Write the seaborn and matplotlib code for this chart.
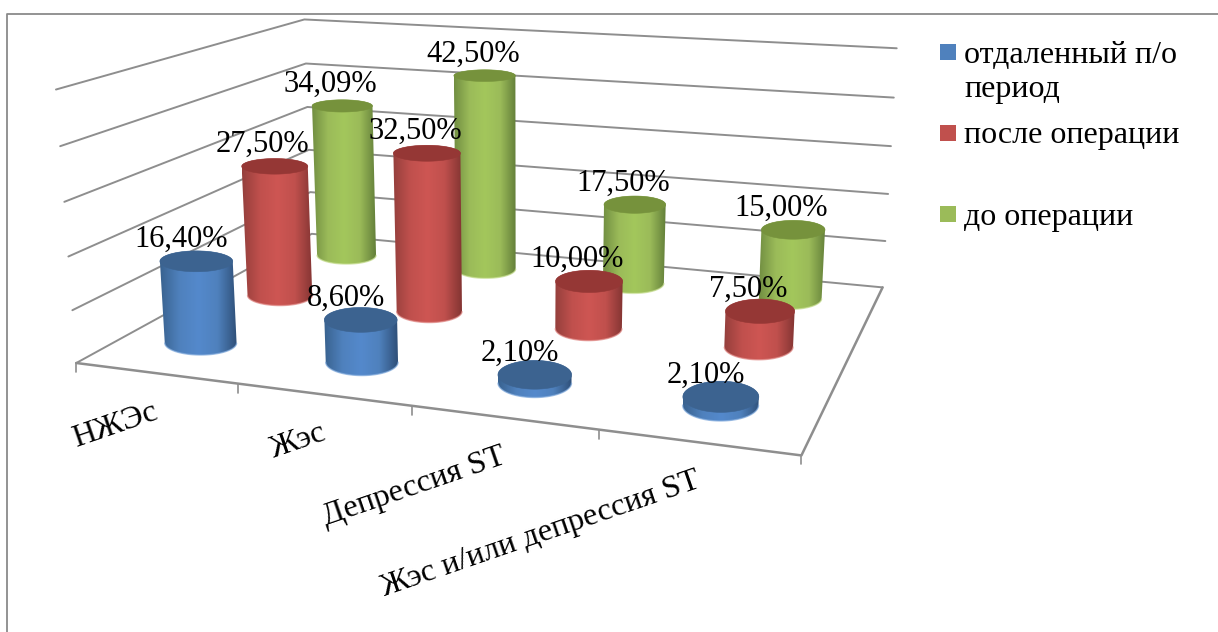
import numpy as np
import matplotlib
matplotlib.use("Agg")
import matplotlib.pyplot as plt
from matplotlib.patches import Rectangle, Polygon
import seaborn as sns

# Chart values, percent of patients
categories = ["НЖЭс", "Жэс", "Депрессия ST", "Жэс и/или депрессия ST"]
series_names = ["отдаленный п/о\nпериод", "после операции", "до операции"]
late_period = [16.40, 8.60, 2.10, 2.10]
after_surgery = [27.50, 32.50, 10.00, 7.50]
before_surgery = [34.09, 42.50, 17.50, 15.00]
series_values = [late_period, after_surgery, before_surgery]

# Value axis
value_step = 10.0
value_ticks = 5

# Series colours for the side shading and the caps
base_colors = ["#4F81BD", "#C0504D", "#9BBB59"]
bright_colors = ["#5489CC", "#CE5653", "#A3C75C"]
left_colors = ["#39628F", "#953F3C", "#728F42"]
right_colors = ["#2F5079", "#843533", "#64803A"]
cap_colors = ["#3C6390", "#953735", "#76923C"]
rim_colors = ["#7FA9DC", "#E08885", "#C4DC8C"]

GRID = "#8E8E8E"
W, H = 1218, 632

sns.set_theme(style="white")
plt.rcParams["font.family"] = ["Liberation Serif", "DejaVu Serif"]

# Camera of the 3-D box: (category, series, value step) -> screen position
box_points = np.array([
    (0, 0, 0), (1, 0, 0), (2, 0, 0), (3, 0, 0), (4, 0, 0),
    (4, 3, 0), (0, 3, 0),
    (0, 0, 1), (0, 0, 2), (0, 0, 3), (0, 0, 4), (0, 0, 5),
    (0, 3, 1), (0, 3, 3), (0, 3, 4), (0, 3, 5),
    (4, 3, 1), (4, 3, 2), (4, 3, 3), (4, 3, 4), (4, 3, 5),
], float)
screen_points = np.array([
    (76, 361), (238, 383), (412, 406), (599, 430), (802, 457),
    (882, 286), (313, 237),
    (71, 309), (68, 256), (64, 202), (61, 147), (57, 91),
    (311, 193), (307, 106), (305, 62), (304, 19),
    (885, 240), (888, 194), (891, 146), (894, 98), (897, 49),
], float)


def fit_camera(world, image):
    rows = []
    for (x, y, z), (u, v) in zip(world, image / 1000.0):
        rows.append([x, y, z, 1, 0, 0, 0, 0, -u * x, -u * y, -u * z, -u])
        rows.append([0, 0, 0, 0, x, y, z, 1, -v * x, -v * y, -v * z, -v])
    _, _, vt = np.linalg.svd(np.array(rows))
    return vt[-1].reshape(3, 4)


CAMERA = fit_camera(box_points, screen_points)


def project(x, y, z):
    x, y, z = np.broadcast_arrays(x, y, z)
    p = np.stack([x, y, z, np.ones_like(x, dtype=float)], axis=-1) @ CAMERA.T
    return p[..., :2] / p[..., 2:3] * 1000.0


fig = plt.figure(figsize=(W / 100, H / 100), dpi=100, facecolor="white")
ax = fig.add_axes([0, 0, 1, 1])
ax.set_xlim(0, W)
ax.set_ylim(H, 0)
ax.axis("off")

# Outer chart frame
ax.plot([7, 7, W], [H, 14, 14], color="#8A8A8A", lw=1.3, zorder=1)

# Walls and floor
for k in range(value_ticks + 1):
    wall = project([0, 0, 4], [0, 3, 3], [k, k, k])
    ax.plot(wall[:, 0], wall[:, 1], color=GRID, lw=1.4, zorder=2)
front = project([0, 4, 4], [0, 0, 3], [0, 0, 0])
ax.plot(front[:, 0], front[:, 1], color=GRID, lw=1.8, zorder=2)
for c in range(len(categories) + 1):
    tx, ty = project(c, 0, 0)
    ax.plot([tx, tx], [ty, ty + 9], color=GRID, lw=1.2, zorder=2)

# Cylinders stand slightly proud of the floor plane
RX, RY = 0.19, 0.235
BASE_LIFT = 0.06
angles = np.linspace(0, 2 * np.pi, 181)[:-1]


def level_ellipse(cat, ser, z):
    """Circle at height z on the screen, with its major axis laid level."""
    pts = project(cat + 0.5 + RX * np.cos(angles), ser + 0.5 + RY * np.sin(angles), z)
    centre = pts.mean(axis=0)
    slope = np.polyfit(pts[:, 0], pts[:, 1], 1)[0]
    pts[:, 1] -= slope * (pts[:, 0] - centre[0])
    return pts, centre


def draw_cylinder(cat, ser, value):
    height = value / value_step
    low, low_c = level_ellipse(cat, ser, BASE_LIFT)
    high, high_c = level_ellipse(cat, ser, height)
    lower_arc = low[low[:, 1] >= low_c[1]]
    lower_arc = lower_arc[np.argsort(lower_arc[:, 0])]
    upper_arc = high[high[:, 1] <= high_c[1]]
    upper_arc = upper_arc[np.argsort(-upper_arc[:, 0])]
    outline = np.vstack([lower_arc, upper_arc])

    ramp = sns.blend_palette(
        [left_colors[ser], base_colors[ser], bright_colors[ser],
         base_colors[ser], right_colors[ser]], as_cmap=True)
    side = Polygon(outline, closed=True, facecolor="none", edgecolor="none",
                   transform=ax.transData)
    ax.add_patch(side)
    shade = ax.imshow(
        np.linspace(0, 1, 128)[None, :], cmap=ramp, aspect="auto", zorder=5,
        extent=(outline[:, 0].min(), outline[:, 0].max(),
                outline[:, 1].max(), outline[:, 1].min()),
        interpolation="bilinear")
    shade.set_clip_path(side)
    ax.plot(lower_arc[:, 0], lower_arc[:, 1], color=rim_colors[ser], lw=1.0,
            alpha=0.7, zorder=5)
    ax.add_patch(Polygon(high, closed=True, facecolor=cap_colors[ser],
                         edgecolor=cap_colors[ser], lw=0.4, zorder=5))


for ser in reversed(range(len(series_values))):
    for cat in range(len(categories)):
        draw_cylinder(cat, ser, series_values[ser][cat])
ax.set_xlim(0, W)
ax.set_ylim(H, 0)

# Value labels sit above each cylinder's cap
label_shift = (-12, -21.5)
series_shift = [-3, 0, 0]
for ser, values in enumerate(series_values):
    for cat, value in enumerate(values):
        tx, ty = project(cat + 0.5, ser + 0.5, value / value_step)
        ax.text(tx + label_shift[0] + series_shift[ser], ty + label_shift[1],
                f"{value:.2f}%".replace(".", ","),
                fontsize=22, color="black", ha="center", va="center", zorder=8)

# Category labels, slanted, ending under the middle of each category
for cat, name in enumerate(categories):
    tx, ty = project(cat + 0.5, 0, 0)
    ax.text(tx + 1, ty + 38, name, fontsize=23.3, rotation=19, rotation_mode="anchor",
            ha="right", va="center", color="black", zorder=8)

# Legend
swatch_y = [52, 133, 214]
legend_text_y = [72.5, 136, 217]
for ser, name in enumerate(series_names):
    ax.add_patch(Rectangle((940, swatch_y[ser] - 8), 16, 16, facecolor=base_colors[ser],
                           edgecolor="none", zorder=8))
    ax.text(964, legend_text_y[ser], name, fontsize=23, va="center", ha="left",
            color="black", zorder=8, linespacing=1.25)

fig.savefig("out.png", dpi=100, facecolor="white")
